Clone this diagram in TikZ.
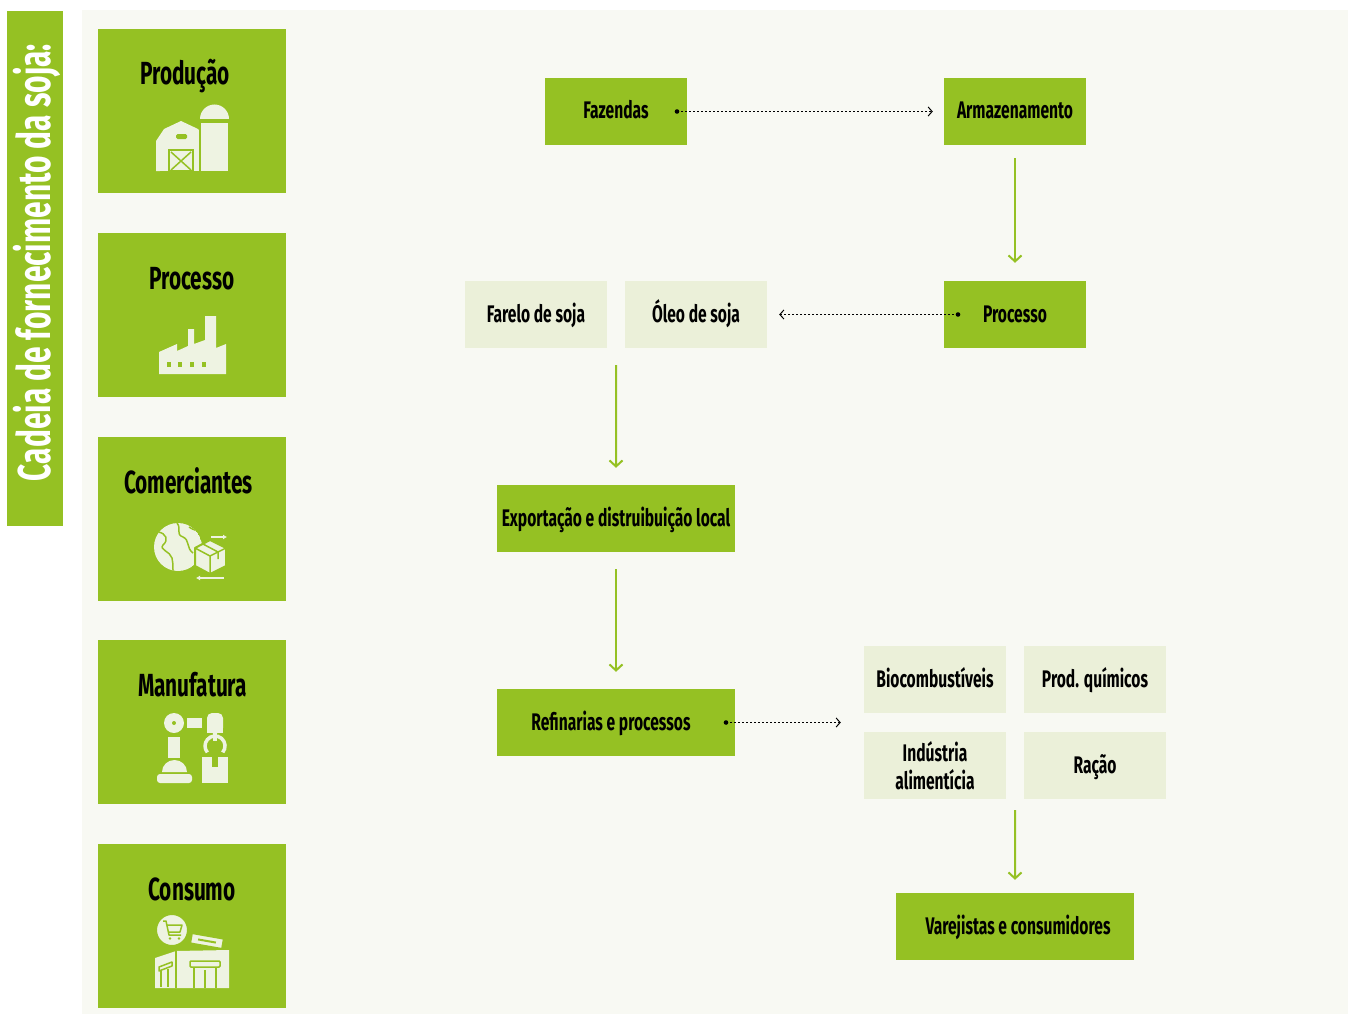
\documentclass[tikz,border=0pt]{standalone}
\usepackage{fontspec}
\setmainfont[FakeStretch=0.65]{Fira Sans}
\usetikzlibrary{arrows.meta,calc}
\definecolor{leaf}{HTML}{95C123}
\definecolor{pale}{HTML}{EBF0D9}
\definecolor{panel}{HTML}{F8F9F3}
\definecolor{ivory}{HTML}{EEF3E2}
\begin{document}
\begin{tikzpicture}[x=1pt,y=-1pt,
  greenbox/.style={fill=leaf, draw=none, minimum width=142pt, minimum height=67pt, inner sep=0pt, font=\fontsize{24}{28}\selectfont\bfseries, text=black},
  oneline/.style={text height=15pt, text depth=0pt},
  widebox/.style={greenbox, minimum width=238pt},
  palebox/.style={greenbox, fill=pale},
  stagebox/.style={fill=leaf, draw=none, minimum width=188pt, minimum height=164pt, inner sep=0pt},
  stagetitle/.style={font=\fontsize{32}{36}\selectfont\bfseries, text=black, inner sep=0pt, anchor=base},
  flow/.style={leaf, line width=2pt, -{Straight Barb[length=6pt,width=13pt,line width=2pt]}},
  dots/.style={black, line width=1pt, dash pattern=on 2pt off 2pt, -{Straight Barb[length=4pt,width=9pt,line width=1pt]}},
  ic/.style={fill=ivory, draw=none},
  gl/.style={leaf, line width=1.5pt},
]
\useasboundingbox (0,0) rectangle (1348,1014);
\fill[white] (0,0) rectangle (1348,1014);
\fill[panel] (82,10) rectangle (1348,1014);

% banner
\node[fill=leaf, minimum width=56pt, minimum height=515pt, inner sep=0pt] (banner) at (35,268.5) {};
\node[rotate=90, inner sep=0pt, text=white, font=\fontsize{46}{50}\selectfont\bfseries] (bannertext) at (37,262.5)
      {Cadeia de fornecimento da soja:};

% stage boxes
\node[stagebox] (s1) at (192,111) {};
\node[stagebox] (s2) at (192,315) {};
\node[stagebox] (s3) at (192,519) {};
\node[stagebox] (s4) at (192,722) {};
\node[stagebox] (s5) at (192,926) {};
\node[stagetitle] (t1) at (185,85) {Produção};
\node[stagetitle] (t2) at (192,289) {Processo};
\node[stagetitle] (t3) at (188.5,493) {Comerciantes};
\node[stagetitle] (t4) at (192.5,696) {Manufatura};
\node[stagetitle] (t5) at (192,900) {Consumo};

% --- icon: barn
\fill[ic] (156,171) -- (156,141) -- (164,129) -- (181,121) -- (198,129) -- (207,140) -- (207,171) -- cycle;
\filldraw[fill=ivory, draw=leaf, line width=1.5pt] (200,122) rectangle (229,172);
\fill[ic] (200,119) arc[start angle=180, end angle=0, radius=14.5pt] -- cycle;
\fill[leaf, rounded corners=1.5pt] (176,134) rectangle (187,139);
\filldraw[fill=ivory, draw=leaf, line width=2pt] (169,150) rectangle (193,171);
\draw[leaf, line width=1.5pt] (171,152) -- (191,170) (191,152) -- (171,170);
\fill[leaf] (160,171) rectangle (230,173);

% --- icon: factory
\fill[ic] (159,374) -- (159,352) -- (177,344) -- (177,351) -- (188,346) -- (188,329) -- (194,329) -- (194,344) -- (205,340) -- (205,316) -- (216,316) -- (216,348) -- (226,344) -- (226,374) -- cycle;
\foreach \wx in {167,178,190,202} \fill[leaf] (\wx,362) rectangle ++(4,5);

% --- icon: globe with parcel
\begin{scope}
  \clip (178,547) circle[radius=24pt];
  \fill[ivory] (178,547) circle[radius=24pt];
  \draw[gl, line join=round] (158,532) .. controls (166,533) and (169,540) .. (163,545) .. controls (159,550) and (170,551) .. (172,558) .. controls (174,565) and (171,570) .. (175,574);
  \draw[gl, line join=round] (177,523) .. controls (182,529) and (175,534) .. (183,537) .. controls (190,540) and (186,548) .. (193,553);
  \draw[gl] (189,527) .. controls (194,531) and (198,529) .. (201,535);
\end{scope}
\filldraw[fill=ivory, draw=leaf, line width=2pt, line join=round] (195,548) -- (210,540) -- (226,548) -- (226,566) -- (210,574) -- (195,566) -- cycle;
\draw[gl] (195,548) -- (210,556) -- (226,548) (210,556) -- (210,574);
\draw[gl] (203,544) -- (218,552) -- (218,559);
\draw[ivory, line width=1.5pt, -{Latex[length=4pt,width=5pt]}] (211,537) -- (227,537);
\draw[ivory, line width=1.5pt, -{Latex[length=4pt,width=5pt]}] (224,578) -- (196,578);

% --- icon: robot arm
\fill[ic] (174,723) circle[radius=10pt];
\fill[leaf] (174,723) circle[radius=2pt];
\fill[ic] (187,718) rectangle (202,728);
\fill[ic, rounded corners=5pt] (207,713) -- (223,713) -- (223,733) -- (207,733) -- cycle;
\fill[ic] (207,724) rectangle (223,733);
\fill[ic] (213,733) rectangle (217,741);
\draw[ivory, line width=3.5pt] (222.7,752.4) arc[start angle=-40, end angle=220, radius=10pt];
\fill[ic] (168,737) rectangle (180,758);
\fill[ic] (162,772) arc[start angle=180, end angle=0, x radius=12.5pt, y radius=12pt] -- cycle;
\fill[ic, rounded corners=3pt] (157,774) rectangle (192,783);
\fill[ic] (202,757) rectangle (228,783);
\fill[leaf] (212,757) rectangle (218,767);

% --- icon: store
\fill[ic] (155,958) -- (176,951) -- (229,950) -- (229,988) -- (155,988) -- cycle;
\draw[gl] (176,951) -- (176,988);
\draw[gl, rounded corners=1pt] (190,961) rectangle (220,967);
\draw[leaf, line width=1.2pt] (194,967) -- (194,988) (216,967) -- (216,988) (205,970) -- (205,988);
\draw[gl, line join=round] (159,967) -- (172,962) -- (172,966) -- (159,971) -- cycle;
\draw[leaf, line width=1.2pt] (161,971) -- (161,987) (168,969) -- (168,987);
\filldraw[fill=ivory, draw=leaf, line width=1.5pt, rotate around={-10:(207,941)}] (191,936) rectangle (223,946);
\fill[leaf, rotate around={-10:(207,941)}] (198,940) rectangle (216,942);
\filldraw[fill=ivory, draw=leaf, line width=2pt] (172,930) circle[radius=16pt];
\draw[gl, line join=round] (163,921) -- (166,921) -- (169,935) -- (181,935);
\draw[gl, line join=round] (167,925) -- (182,925) -- (180,932) -- (168,932);
\fill[leaf] (170,938.5) circle[radius=1.4pt] (179,938.5) circle[radius=1.4pt];

% flow nodes
\node[greenbox, oneline] (faz) at (616,111.5) {Fazendas};
\node[greenbox, oneline] (arm) at (1015,111.5) {Armazenamento};
\node[greenbox, oneline] (proc) at (1015,314.5) {Processo};
\node[palebox, oneline] (farelo) at (536,314.5) {Farelo de soja};
\node[palebox, oneline] (oleo) at (696,314.5) {Óleo de soja};
\node[widebox, oneline] (export) at (616,518.5) {Exportação e distruibuição local};
\node[widebox, oneline] (refin) at (616,722.5) {\hspace*{-10pt}Refinarias e processos};
\node[palebox, oneline] (bio) at (935,679.5) {Biocombustíveis};
\node[palebox, oneline] (quim) at (1095,679.5) {Prod. químicos};
\node[palebox, align=center] (ind) at (935,765.5) {Indústria\\alimentícia};
\node[palebox, oneline] (racao) at (1095,765.5) {Ração};
\node[widebox, oneline] (varejo) at (1015,926.5) {\hspace*{6pt}Varejistas e consumidores};

% helper coordinates
\coordinate (d1) at (677,111.5);
\coordinate (d2) at (958,314.5);
\coordinate (d3) at (726,722.5);
\coordinate (grp) at ($(bio.west)!0.5!(ind.west)$);
\coordinate (fo) at ($(farelo.south east)!0.5!(oleo.south west)$);
\coordinate (ir) at ($(ind.south east)!0.5!(racao.south west)$);

% connectors
\fill (d1) circle[radius=2.3pt];
\draw[dots, shorten >=11pt] (d1) -- (arm.west);
\draw[flow, shorten <=13pt, shorten >=18pt] (arm.south) -- (proc.north);
\fill (d2) circle[radius=2.3pt];
\draw[dots, shorten >=12pt] (d2) -- (oleo.east);
\draw[flow, shorten <=17pt, shorten >=17pt] (fo) -- (export.north);
\draw[flow, shorten <=17pt, shorten >=17pt] (export.south) -- (refin.north);
\fill (d3) circle[radius=2.3pt];
\draw[dots, shorten >=23pt] (d3) -- (grp);
\draw[flow, shorten <=11pt, shorten >=13pt] (ir) -- (varejo.north);
\end{tikzpicture}
\end{document}
